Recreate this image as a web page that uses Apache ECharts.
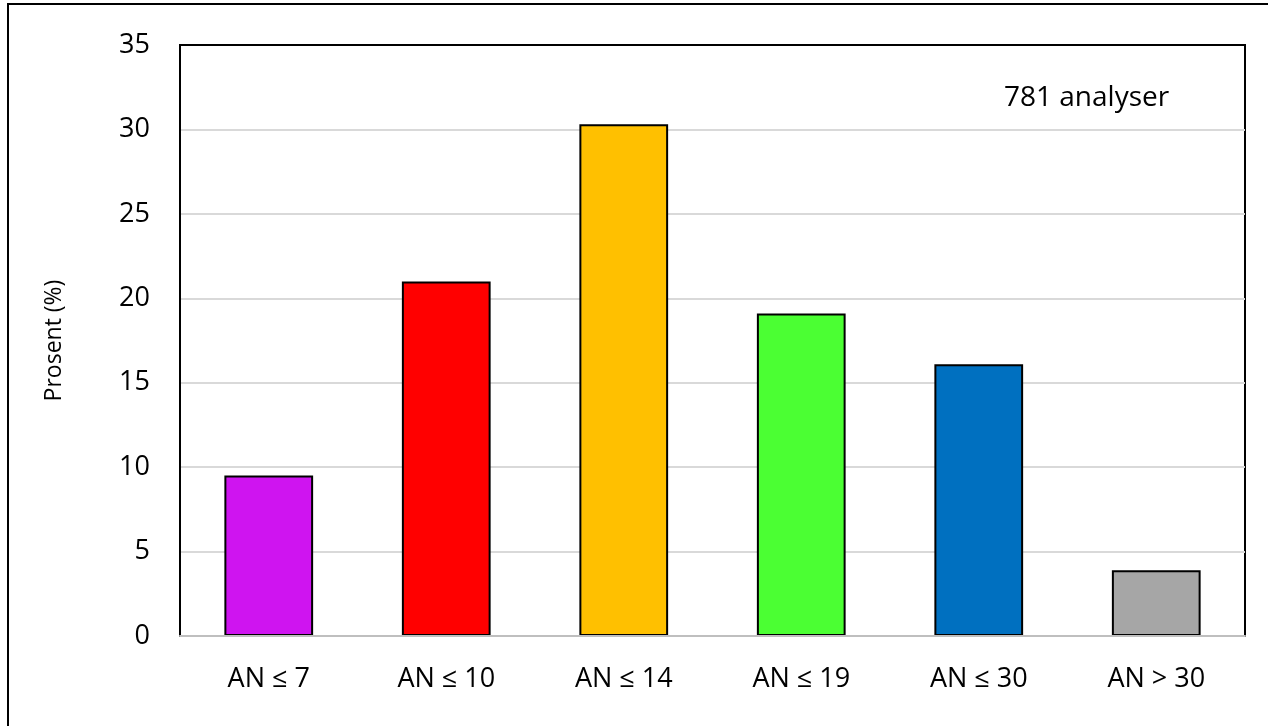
<!DOCTYPE html>
<html>
<head>
<meta charset="utf-8">
<script src="https://cdn.jsdelivr.net/npm/echarts@6/dist/echarts.min.js"></script>
<style>
html,body{margin:0;padding:0;background:#fff;}
#chart{width:1268px;height:726px;}
</style>
</head>
<body>
<div id="chart"></div>
<script>
const categories = ['AN ≤ 7', 'AN ≤ 10', 'AN ≤ 14', 'AN ≤ 19', 'AN ≤ 30', 'AN > 30'];
const values = [9.5, 21.0, 30.3, 19.1, 16.1, 3.9];
const barColors = ['#CF14F0', '#FF0000', '#FFC000', '#4BFF33', '#0070C0', '#A6A6A6'];
const yTicks = [0, 5, 10, 15, 20, 25, 30, 35];
const yName = 'Prosent (%)';
const note = '781 analyser';

const FONT = '"Open Sans", sans-serif';
const chart = echarts.init(document.getElementById('chart'));
chart.setOption({
  animation: false,
  backgroundColor: '#fff',
  grid: {
    left: 180, right: 23, top: 45, bottom: 90,
    show: true, borderColor: '#000', borderWidth: 2, backgroundColor: 'transparent'
  },
  xAxis: [{
    type: 'category',
    data: categories,
    axisLine: { show: true, lineStyle: { color: '#BFBFBF', width: 2 } },
    axisTick: { show: false },
    axisLabel: { color: '#000', fontSize: 27, fontFamily: FONT, margin: 30 },
    z: 5
  }, {
    type: 'category',
    position: 'top',
    data: categories,
    axisLine: { show: true, lineStyle: { color: '#000', width: 2 } },
    axisTick: { show: false },
    axisLabel: { show: false },
    z: 5
  }],
  yAxis: {
    type: 'value',
    min: yTicks[0], max: yTicks[yTicks.length - 1], interval: 5,
    name: yName,
    nameLocation: 'middle',
    nameGap: 114,
    nameRotate: 90,
    nameTextStyle: { color: '#000', fontSize: 23, fontFamily: FONT },
    axisLine: { show: true, lineStyle: { color: '#000', width: 2 } },
    axisTick: { show: false },
    axisLabel: { color: '#000', fontSize: 27, fontFamily: FONT, margin: 30 },
    splitLine: { show: true, lineStyle: { color: '#D9D9D9', width: 2 } }
  },
  series: [{
    type: 'bar',
    xAxisIndex: 0,
    data: values.map((v, i) => ({ value: v, itemStyle: { color: barColors[i] } })),
    barWidth: '50%',
    itemStyle: { borderColor: '#000', borderWidth: 2 },
    z: 3
  }],
  graphic: [
    {
      type: 'text',
      left: 1004, top: 84,
      style: { text: note, fill: '#000', font: '28px ' + FONT }
    },
    {
      type: 'rect',
      shape: { x: 8, y: 4, width: 1300, height: 760 },
      style: { fill: 'none', stroke: '#000', lineWidth: 2 },
      silent: true
    }
  ]
});
</script>
</body>
</html>
